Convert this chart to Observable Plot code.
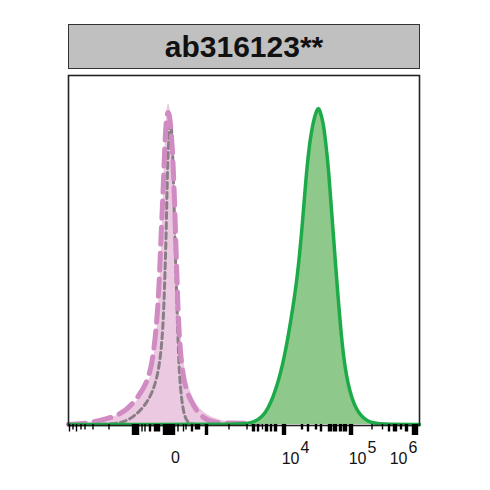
<!DOCTYPE html>
<html>
<head>
<meta charset="utf-8">
<script src="https://cdn.jsdelivr.net/npm/d3@7"></script>
<script src="https://cdn.jsdelivr.net/npm/@observablehq/plot@0.6"></script>
<style>
  html, body { margin: 0; padding: 0; background: #fff; }
  #wrap { position: relative; width: 490px; height: 490px; }
  #title {
    position: absolute; left: 68px; top: 24px; width: 350px; height: 43px;
    background: #c0c0c0; border: 1.5px solid #333;
    font-family: "Liberation Sans", Arial, sans-serif; font-size: 30px; font-weight: bold;
    display: flex; align-items: center; justify-content: center; color: #111;
  }
  #chart { position: absolute; left: 0; top: 0; }
</style>
</head>
<body>
<div id="wrap">
  <div id="chart"></div>
  <div id="title">ab316123**</div>
</div>
<script>
// x: transformed (biexponential) display units, y: % of mode
const pinkFillX = [-107, -80, -65, -50, -37, -27, -21, -17, -14, -12, -10, -8, -5, -2, 1, 3, 6, 11, 18, 27, 40, 60, 85, 244];
const pinkFillY = [0, 0.6, 1.7, 3.7, 6.9, 11.2, 18.4, 32.9, 50.1, 67.4, 84.7, 93.4, 91.9, 79.0, 54.5, 35.7, 22.8, 12.7, 6.9, 3.5, 1.4, 0.3, 0, 0];

const pinkDashX = [-107, -85, -55, -42, -28, -22, -17, -15, -12, -10, -7, -3, 0, 2, 4, 8, 15, 25, 40, 55, 70, 85];
const pinkDashY = [0, 0.3, 2.6, 6.1, 11.8, 19.3, 34.9, 51.0, 69.5, 86.7, 92.5, 81.8, 55.9, 36.6, 23.3, 11.8, 6.9, 2.0, 0.3, 0.5, 0.4, 0];

const grayDotX = [-75, -55, -42, -28, -18, -13, -11, -9, -8, -5, -3, -1, 1, 3, 5, 8, 12, 20];
const grayDotY = [0, 0.3, 2.0, 6.1, 12.7, 24.2, 38.6, 57.9, 76.9, 90.5, 81.8, 57.9, 38.6, 19.3, 9.8, 3.2, 0.3, 0];

const greenX = [-107, 65, 75, 88, 98, 107, 115, 122, 127, 132, 137, 142, 144, 148, 150, 153, 157, 162, 167, 172, 180, 192, 205, 244];
const greenY = [0, 0, 0.3, 2.0, 7.8, 16.4, 29.1, 42.4, 57.9, 76.9, 86.7, 91.4, 91.1, 86.7, 81.8, 74.1, 57.9, 38.6, 21.3, 11.8, 4.0, 0.6, 0, 0];

// axis tick marks (start, end, class)
const tickStart = [-106, -102.5, -99, -94.5, -90.5, -82.5, -66.5, -43, -33.5, -30.5, -26, -21, -12, 2.5, 8, 10.5, 16, 20, 30, 53.5, 71.5, 77, 82, 87, 90, 95, 99, 107, 126, 132, 140, 145, 153, 158, 164, 168, 174, 196.5, 207, 213, 218, 225, 230, 237];
const tickEnd   = [-105, -101.5, -98, -93.5, -89.5, -81.5, -65.5, -36, -32.5, -29.5, -24, -15, 0, 3.5, 9, 11.5, 18, 25, 33, 54.5, 72.5, 80, 84, 88, 93, 97, 102, 111, 128, 134, 142, 147, 157, 162, 167, 172, 178, 197.5, 208, 215, 222, 227, 233, 243];
const tickClass = ["m","s","m","s","s","s","s","t","m","m","m","m","t","m","m","s","m","s","t","s","s","m","m","s","m","m","m","t","s","m","s","m","m","m","m","m","t","s","s","m","m","s","m","t"];

const labelBaseX = [124, 191, 232];
const labelExp = ["4", "5", "6"];
const zeroLabel = "0";

const pinkFill = pinkFillX.map((x, i) => ({x, y: pinkFillY[i]}));
const pinkDash = pinkDashX.map((x, i) => ({x, y: pinkDashY[i]}));
const grayDot = grayDotX.map((x, i) => ({x, y: grayDotY[i]}));
const green = greenX.map((x, i) => ({x, y: greenY[i]}));

const pxPerUnit = 350 / 100.9;
const tickLenPx = {t: 10, m: 6.5, s: 4.5};
const ticks = tickStart.map((s, i) => ({x1: s - 0.2, x2: tickEnd[i] + 0.2, y1: 0, y2: -tickLenPx[tickClass[i]] / pxPerUnit - 0.3}));
const labels = labelBaseX.map((x, i) => ({x, exp: labelExp[i]}));

const font = "Liberation Sans, Arial, sans-serif";
const chart = Plot.plot({
  width: 490,
  height: 490,
  marginLeft: 68,
  marginRight: 71,
  marginTop: 75,
  marginBottom: 65,
  style: {fontFamily: font, background: "white"},
  x: {domain: [-107, 244], axis: null},
  y: {domain: [-0.3, 100.6], axis: null},
  marks: [
    Plot.areaY(pinkFill, {x: "x", y: "y", fill: "#ebc9e1", curve: "basis"}),
    Plot.lineY(grayDot, {x: "x", y: "y", stroke: "#8a7e86", strokeWidth: 3, strokeDasharray: "6,4", curve: "basis"}),
    Plot.lineY(pinkDash, {x: "x", y: "y", stroke: "#d08bc2", strokeWidth: 5, strokeDasharray: "17,9", curve: "basis"}),
    Plot.areaY(green, {x: "x", y: "y", fill: "#8ec98b", curve: "basis"}),
    Plot.lineY(green, {x: "x", y: "y", stroke: "#1daa48", strokeWidth: 3.5, curve: "basis"}),
    Plot.frame({stroke: "#222", strokeWidth: 1.6}),
    Plot.rect(ticks, {x1: "x1", x2: "x2", y1: "y1", y2: "y2", fill: "#000"}),
    Plot.text([zeroLabel], {x: 0, y: 0, text: d => d, dy: 33, fontSize: 16, fill: "#111"}),
    Plot.text(labels, {x: "x", y: 0, text: () => "10", textAnchor: "end", dy: 34, fontSize: 16, fill: "#111"}),
    Plot.text(labels, {x: "x", y: 0, text: "exp", textAnchor: "start", dx: 1, dy: 23, fontSize: 16, fill: "#111"})
  ]
});
document.getElementById("chart").appendChild(chart);
</script>
</body>
</html>
